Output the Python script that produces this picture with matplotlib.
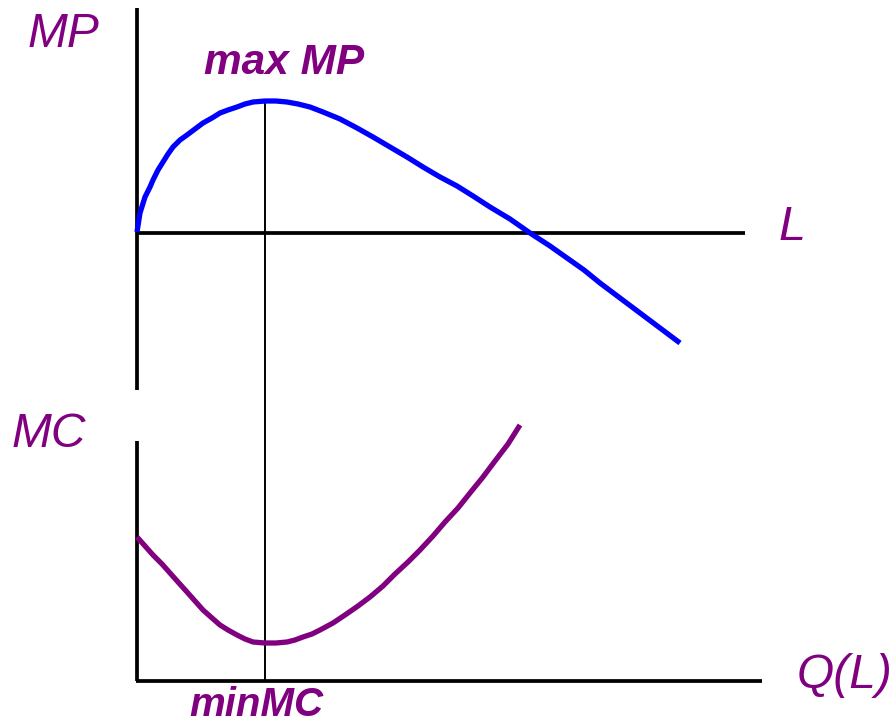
import matplotlib.pyplot as plt

# Curves, in picture coordinates (x right, y down)
mp_x = [137, 140, 145, 150, 153, 158, 163, 168, 173, 180, 187, 195, 203, 212, 220, 228, 237, 245, 253, 265,
        276, 287, 298, 310, 323, 340, 357, 373, 390, 407, 423, 440, 457, 473, 490, 510, 530, 550, 567, 584,
        600, 620, 640, 660, 680]
mp_y = [232, 213, 197, 187, 180, 170, 162, 154, 147, 140, 135, 129, 123, 118, 113, 110, 107, 104, 102, 101,
        101, 102, 104, 107, 112, 119, 128, 137, 147, 157, 167, 177, 186, 196, 207, 219, 233, 246, 258, 270,
        283, 298, 313, 328, 343]

mc_x = [137, 145, 153, 162, 170, 178, 187, 195, 203, 212, 220, 228, 237, 245, 253, 265, 276, 287, 295, 303,
        312, 320, 333, 345, 358, 370, 383, 395, 408, 420, 433, 445, 458, 470, 483, 495, 508, 520]
mc_y = [537, 546, 555, 564, 573, 582, 592, 601, 610, 618, 625, 630, 635, 639, 642, 643, 643, 642, 640, 637,
        634, 630, 623, 615, 606, 597, 586, 574, 562, 550, 536, 522, 508, 493, 477, 461, 444, 425]

# axes of the two panels and the guide line at max MP / min MC
origin_x = 137
top_axis = {"y0": 8, "y1": 390, "h_y": 233, "h_end": 745}
bot_axis = {"y0": 441, "y1": 681, "h_y": 681, "h_end": 762}
guide_x = 265
guide_y = (104, 681)

purple = "#800080"
blue = "#0000FF"

fig = plt.figure(figsize=(8.93, 7.23), dpi=100)
ax = fig.add_axes([0, 0, 1, 1])
ax.set_xlim(0, 893)
ax.set_ylim(723, 0)
ax.axis("off")

# top panel axes
ax.plot([origin_x, origin_x], [top_axis["y0"], top_axis["y1"]], color="black", lw=2.7, solid_capstyle="butt")
ax.plot([origin_x, top_axis["h_end"]], [top_axis["h_y"], top_axis["h_y"]], color="black", lw=2.7, solid_capstyle="butt")

# bottom panel axes
ax.plot([origin_x, origin_x], [bot_axis["y0"], bot_axis["y1"]], color="black", lw=2.7, solid_capstyle="butt")
ax.plot([origin_x - 1, bot_axis["h_end"]], [bot_axis["h_y"], bot_axis["h_y"]], color="black", lw=2.7, solid_capstyle="butt")

# guide line
ax.plot([guide_x, guide_x], guide_y, color="black", lw=1.4)

# curves
ax.plot(mp_x, mp_y, color=blue, lw=3.8, solid_joinstyle="round", solid_capstyle="butt")
ax.plot(mc_x, mc_y, color=purple, lw=3.8, solid_joinstyle="round", solid_capstyle="butt")

# labels
font = "Liberation Sans"
ax.text(28, 47, "MP", color=purple, fontsize=34.5, style="italic", family=font)
ax.text(204, 74, "max MP", color=purple, fontsize=30.5, style="italic", weight="bold", family=font)
ax.text(779, 240, "L", color=purple, fontsize=35, style="italic", family=font)
ax.text(12, 447, "MC", color=purple, fontsize=34.5, style="italic", family=font)
ax.text(797, 688, "Q(L)", color=purple, fontsize=34.5, style="italic", family=font)
ax.text(189, 716, "minMC", color=purple, fontsize=29, style="italic", weight="bold", family=font)

fig.savefig("out.png", dpi=100)
